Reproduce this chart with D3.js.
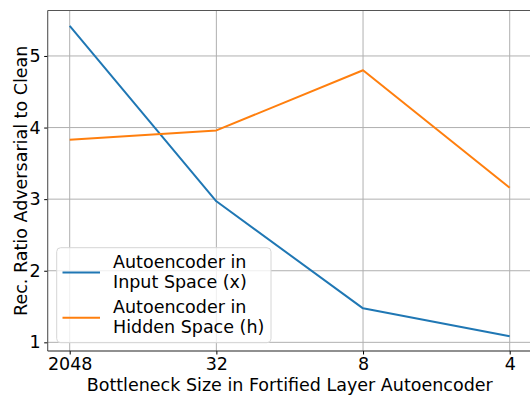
<!DOCTYPE html>
<html>
<head>
<meta charset="utf-8">
<script src="https://cdn.jsdelivr.net/npm/d3@7"></script>
<style>
  html, body { margin: 0; padding: 0; background: #fff; }
  svg { display: block; font-family: "DejaVu Sans", sans-serif; }
</style>
</head>
<body>
<svg id="chart" width="530" height="396"></svg>
<script>
// Bottleneck sizes of the fortified-layer autoencoder
const categories = ["2048", "32", "8", "4"];
// Reconstruction ratio (adversarial / clean)
const inputSpace = [5.42, 2.97, 1.475, 1.085];
const hiddenSpace = [3.83, 3.96, 4.80, 3.16];
const yTicks = [1, 2, 3, 4, 5];
const seriesNames = [["Autoencoder in", "Input Space (x)"], ["Autoencoder in", "Hidden Space (h)"]];
const colors = ["#1f77b4", "#ff7f0e"];

const svg = d3.select("#chart");
const plotLeft = 47.7, plotRight = 531.7, plotTop = 10.5, plotBottom = 351;

const x = d3.scalePoint().domain(categories).range([plotLeft, plotRight]).padding(0.15);
const y = d3.scaleLinear().domain([0.879, 5.635]).range([plotBottom, plotTop]);

// Grid
const grid = svg.append("g").attr("stroke", "#b0b0b0").attr("stroke-width", 1);
grid.selectAll("line.gx").data(categories).join("line")
  .attr("x1", d => x(d)).attr("x2", d => x(d)).attr("y1", plotTop).attr("y2", plotBottom);
grid.selectAll("line.gy").data(yTicks).join("line")
  .attr("x1", plotLeft).attr("x2", plotRight).attr("y1", d => y(d)).attr("y2", d => y(d));

// Series lines
const line = d3.line().x((d, i) => x(categories[i])).y(d => y(d));
[inputSpace, hiddenSpace].forEach((s, k) => {
  svg.append("path").datum(s).attr("d", line)
    .attr("fill", "none").attr("stroke", colors[k]).attr("stroke-width", 2)
    .attr("stroke-linejoin", "round");
});

// Axes
const xAxis = svg.append("g").attr("transform", `translate(0,${plotBottom})`)
  .call(d3.axisBottom(x).tickSizeInner(3.5).tickSizeOuter(0).tickPadding(3.5));
const yAxis = svg.append("g").attr("transform", `translate(${plotLeft},0)`)
  .call(d3.axisLeft(y).tickValues(yTicks).tickFormat(d3.format("d")).tickSizeInner(3.5).tickSizeOuter(0).tickPadding(3.5));
[xAxis, yAxis].forEach(a => {
  a.select(".domain").remove();
  a.selectAll(".tick line").attr("stroke", "#000").attr("stroke-width", 1);
  a.selectAll(".tick text").attr("fill", "#000").style("font-size", "17.5px")
   .style("font-family", "DejaVu Sans, sans-serif");
});

// Spines
svg.append("line").attr("x1", plotLeft).attr("x2", plotLeft).attr("y1", plotTop).attr("y2", plotBottom)
  .attr("stroke", "#555").attr("stroke-width", 1.1);
svg.append("line").attr("x1", plotLeft).attr("x2", plotRight).attr("y1", plotTop).attr("y2", plotTop)
  .attr("stroke", "#555").attr("stroke-width", 1.1);
svg.append("line").attr("x1", plotLeft).attr("x2", plotRight).attr("y1", plotBottom).attr("y2", plotBottom)
  .attr("stroke", "#222").attr("stroke-width", 1.1);

// Axis labels
svg.append("text").attr("x", (plotLeft + plotRight) / 2).attr("y", 390.5)
  .attr("text-anchor", "middle").style("font-size", "17.5px")
  .text("Bottleneck Size in Fortified Layer Autoencoder");
svg.append("text").attr("transform", `translate(27,${(plotTop + plotBottom) / 2}) rotate(-90)`)
  .attr("text-anchor", "middle").style("font-size", "17.5px")
  .text("Rec. Ratio Adversarial to Clean");

// Legend
const lg = svg.append("g");
lg.append("rect").attr("x", 56.7).attr("y", 247.7).attr("width", 214.3).attr("height", 95)
  .attr("rx", 4).attr("fill", "#fff").attr("fill-opacity", 0.8)
  .attr("stroke", "#d6d6d6").attr("stroke-width", 1);
seriesNames.forEach((lines, k) => {
  const cy = 272.5 + k * 45.3;
  lg.append("line").attr("x1", 62.5).attr("x2", 100).attr("y1", cy).attr("y2", cy)
    .attr("stroke", colors[k]).attr("stroke-width", 2);
  lines.forEach((t, j) => {
    lg.append("text").attr("x", 113).attr("y", cy - 4.8 + j * 20.4)
      .style("font-size", "17.5px").text(t);
  });
});
</script>
</body>
</html>
